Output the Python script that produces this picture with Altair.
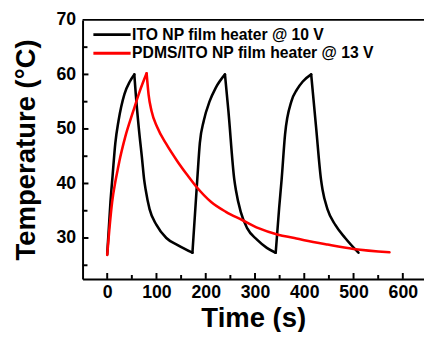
import altair as alt
import pandas as pd

# ---- data ----
ito_time = [0, 6.6, 11, 16.5, 23, 35, 46, 55, 58, 64, 71, 75, 78, 86, 100, 120, 143, 173,
            183, 188, 196, 208, 220, 239, 246, 258, 261, 271, 284, 304, 324, 342,
            349, 354, 361, 374, 385, 397, 414, 424, 434, 437, 447, 463, 483, 510]
ito_temp = [27.0, 36.6, 41.5, 47.4, 51.5, 56.4, 58.7, 60.0, 56.4, 50.3, 44.3, 40.7, 38.9, 35.3, 32.4, 30.0, 28.7, 27.3,
            41.0, 47.4, 51.5, 55.1, 57.5, 60.0, 53.3, 40.7, 38.9, 34.8, 31.8, 29.7, 28.2, 27.3,
            35.5, 40.7, 49.0, 55.1, 57.2, 58.7, 60.0, 50.3, 40.7, 38.9, 35.3, 32.4, 30.0, 27.3]

pdms_time = [0, 4.6, 10, 16.5, 21, 24.5, 36.5, 53, 66, 80, 84, 90, 101.6, 119.5, 143, 163,
             181, 211, 241, 274, 307, 347, 380, 400, 447, 500, 573]
pdms_temp = [26.9, 31.8, 36.6, 40.3, 42.4, 44.0, 48.5, 53.3, 56.9, 60.2, 56.3, 53.3, 50.3, 47.3, 44.0, 41.5,
             39.4, 36.6, 34.8, 33.3, 31.8, 30.6, 30.0, 29.6, 28.8, 28.0, 27.4]

series_names = ["ITO NP film heater @ 10 V", "PDMS/ITO NP film heater @ 13 V"]
series_colors = ["#000000", "#ff0000"]

x_major = [0, 100, 200, 300, 400, 500, 600]
x_minor = [50, 150, 250, 350, 450, 550]
y_major = [30, 40, 50, 60, 70]
y_minor = [25, 35, 45, 55, 65]

X_DOMAIN = [-50, 643]
Y_DOMAIN = [22.5, 70]
W, H = 348, 264
FONT = "Liberation Sans"


def split_monotone(times, temps, name):
    """Split a series at its turning points into monotone pieces (sharing the turning point)."""
    rows = []
    seg = 0
    for i, (t, v) in enumerate(zip(times, temps)):
        rows.append({"t": t, "T": v, "s": name, "seg": f"{name}-{seg}"})
        if 0 < i < len(times) - 1:
            up_before = v > temps[i - 1]
            up_after = temps[i + 1] > v
            if up_before != up_after:
                seg += 1
                rows.append({"t": t, "T": v, "s": name, "seg": f"{name}-{seg}"})
    return pd.DataFrame(rows)


ito = split_monotone(ito_time, ito_temp, series_names[0])
pdms = split_monotone(pdms_time, pdms_temp, series_names[1])

xscale = alt.Scale(domain=X_DOMAIN, nice=False, zero=False)
yscale = alt.Scale(domain=Y_DOMAIN, nice=False, zero=False)

xaxis = alt.Axis(values=x_major, title="Time (s)", grid=False, ticks=False,
                 domainColor="black", domainWidth=2,
                 labelFont=FONT, labelFontSize=18, labelFontWeight="bold", labelColor="black",
                 labelPadding=5,
                 titleFont=FONT, titleFontSize=28, titleFontWeight="bold", titleColor="black",
                 titleY=49, titleBaseline="alphabetic")
yaxis = alt.Axis(values=y_major, title="Temperature (°C)", grid=False, ticks=False,
                 domainColor="black", domainWidth=2,
                 labelFont=FONT, labelFontSize=18, labelFontWeight="bold", labelColor="black",
                 labelPadding=7,
                 titleFont=FONT, titleFontSize=28, titleFontWeight="bold", titleColor="black",
                 titleX=-49, titleBaseline="alphabetic")

# custom wide stroke symbol: length = 3 * sqrt(size), entry height stays small
SYM_SIZE = 160
color = alt.Color("s:N", title=None,
                  scale=alt.Scale(domain=series_names, range=series_colors),
                  legend=alt.Legend(orient="none", legendX=22, legendY=7,
                                    symbolType="M-3,0H3", symbolSize=SYM_SIZE, symbolStrokeWidth=3,
                                    symbolFillColor="transparent",
                                    labelFont=FONT, labelFontSize=16, labelFontWeight="bold",
                                    labelColor="black", labelLimit=400, labelOffset=12.5,
                                    rowPadding=3, padding=0))

black_line = alt.Chart(ito).mark_line(strokeWidth=2.6, interpolate="monotone", strokeCap="round",
                                      strokeJoin="round").encode(
    x=alt.X("t:Q", scale=xscale, axis=xaxis),
    y=alt.Y("T:Q", scale=yscale, axis=yaxis),
    color=color, detail="seg:N")
red_line = alt.Chart(pdms).mark_line(strokeWidth=2.6, interpolate="monotone", strokeCap="round",
                                     strokeJoin="round").encode(
    x=alt.X("t:Q", scale=xscale),
    y=alt.Y("T:Q", scale=yscale),
    color=color, detail="seg:N")

ymaj = alt.Chart(pd.DataFrame({"v": y_major[:-1]})).mark_rule(color="black", strokeWidth=2).encode(
    y=alt.Y("v:Q", scale=yscale), x=alt.value(0), x2=alt.value(6))
ymin = alt.Chart(pd.DataFrame({"v": y_minor})).mark_rule(color="black", strokeWidth=2).encode(
    y=alt.Y("v:Q", scale=yscale), x=alt.value(0), x2=alt.value(5))
xmaj = alt.Chart(pd.DataFrame({"v": x_major})).mark_rule(color="black", strokeWidth=2).encode(
    x=alt.X("v:Q", scale=xscale), y=alt.value(H), y2=alt.value(H - 6))
xmin = alt.Chart(pd.DataFrame({"v": x_minor})).mark_rule(color="black", strokeWidth=2).encode(
    x=alt.X("v:Q", scale=xscale), y=alt.value(H), y2=alt.value(H - 4))
top = alt.Chart(pd.DataFrame({"a": [X_DOMAIN[0]], "b": [X_DOMAIN[1]], "y": [Y_DOMAIN[1]]})).mark_rule(
    color="black", strokeWidth=2).encode(
    x=alt.X("a:Q", scale=xscale), x2="b:Q", y=alt.Y("y:Q", scale=yscale))

chart = alt.layer(black_line, red_line, ymaj, ymin, xmaj, xmin, top).properties(
    width=W, height=H,
    autosize=alt.AutoSizeParams(type="none"),
    padding={"left": 76, "top": 9, "right": 0, "bottom": 51},
    background="white",
).configure_view(stroke=None)

chart.save("out.html", embed_options={"renderer": "svg", "actions": False})
